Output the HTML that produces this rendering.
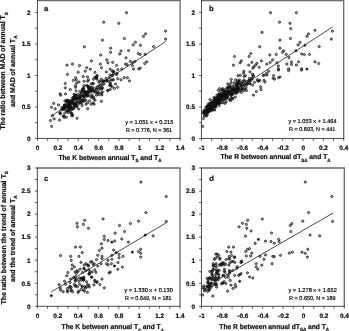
<!DOCTYPE html>
<html lang="en">
<head>
<meta charset="utf-8">
<title>Scatter plots: K and R between annual Ts and Ta</title>
<style>
html,body{margin:0;padding:0;background:#fff;}
body{width:349px;height:331px;overflow:hidden;font-family:"Liberation Sans", sans-serif;}
svg{display:block;will-change:transform;font-family:"Liberation Sans", sans-serif;fill:#111;text-rendering:geometricPrecision;}
text[font-weight="bold"]{stroke:#111;stroke-width:0.22px;}
text.eq{fill:#000;stroke:#000;stroke-width:0.17px;}
</style>
</head>
<body>
<svg width="349" height="331" viewBox="0 0 349 331">
<rect x="0" y="0" width="349" height="331" fill="#ffffff"/>
<g id="panel-a">
<path d="M37.45 0.55H180.1V138.45" fill="none" stroke="#6a6a6a" stroke-width="1.3"/>
<path d="M37.45 -0.05V138.45H180.7" fill="none" stroke="#2b2b2b" stroke-width="0.85"/>
<path d="M37.45 138.45v2.4M47.64 138.45v2.4M57.83 138.45v2.4M68.02 138.45v2.4M78.21 138.45v2.4M88.4 138.45v2.4M98.59 138.45v2.4M108.78 138.45v2.4M118.96 138.45v2.4M129.15 138.45v2.4M139.34 138.45v2.4M149.53 138.45v2.4M159.72 138.45v2.4M169.91 138.45v2.4M180.1 138.45v2.4M37.45 138.45h-2.4M37.45 122.7h-2.4M37.45 106.95h-2.4M37.45 91.2h-2.4M37.45 75.45h-2.4M37.45 59.7h-2.4M37.45 43.95h-2.4M37.45 28.2h-2.4M37.45 12.45h-2.4" stroke="#2b2b2b" stroke-width="0.75" fill="none"/>
<text x="37.55" y="149.9" text-anchor="middle" font-size="6.4" font-weight="bold">0</text>
<text x="57.93" y="149.9" text-anchor="middle" font-size="6.4" font-weight="bold">0.2</text>
<text x="78.31" y="149.9" text-anchor="middle" font-size="6.4" font-weight="bold">0.4</text>
<text x="98.69" y="149.9" text-anchor="middle" font-size="6.4" font-weight="bold">0.6</text>
<text x="119.06" y="149.9" text-anchor="middle" font-size="6.4" font-weight="bold">0.8</text>
<text x="139.44" y="149.9" text-anchor="middle" font-size="6.4" font-weight="bold">1</text>
<text x="159.82" y="149.9" text-anchor="middle" font-size="6.4" font-weight="bold">1.2</text>
<text x="180.2" y="149.9" text-anchor="middle" font-size="6.4" font-weight="bold">1.4</text>
<text x="30.55" y="140.75" text-anchor="end" font-size="6.4" font-weight="bold">0</text>
<text x="30.55" y="109.25" text-anchor="end" font-size="6.4" font-weight="bold">0.5</text>
<text x="30.55" y="77.75" text-anchor="end" font-size="6.4" font-weight="bold">1</text>
<text x="30.55" y="46.25" text-anchor="end" font-size="6.4" font-weight="bold">1.5</text>
<text x="30.55" y="14.75" text-anchor="end" font-size="6.4" font-weight="bold">2</text>
<line x1="50.7" y1="116.3" x2="165.83" y2="41.48" stroke="#1a1a1a" stroke-width="0.8"/>
<g fill="#000" fill-opacity="0.36" stroke="#151515" stroke-width="0.74"><circle cx="78.7" cy="109.03" r="1.12"/><circle cx="84.73" cy="93.85" r="1.12"/><circle cx="87.05" cy="94.05" r="1.12"/><circle cx="102.36" cy="81.45" r="1.12"/><circle cx="88.5" cy="87.1" r="1.12"/><circle cx="63.75" cy="108.17" r="1.12"/><circle cx="61.85" cy="107.53" r="1.12"/><circle cx="87.67" cy="102.83" r="1.12"/><circle cx="78.9" cy="81.94" r="1.12"/><circle cx="92.23" cy="90.3" r="1.12"/><circle cx="72.75" cy="115.46" r="1.12"/><circle cx="76.2" cy="90.86" r="1.12"/><circle cx="64.46" cy="108.49" r="1.12"/><circle cx="74.27" cy="98.22" r="1.12"/><circle cx="66.51" cy="100.8" r="1.12"/><circle cx="68.83" cy="102.85" r="1.12"/><circle cx="69.3" cy="106.1" r="1.12"/><circle cx="77.48" cy="101.22" r="1.12"/><circle cx="73.28" cy="108.33" r="1.12"/><circle cx="87.76" cy="81.23" r="1.12"/><circle cx="70.11" cy="107.57" r="1.12"/><circle cx="64.48" cy="105.5" r="1.12"/><circle cx="71.15" cy="112.88" r="1.12"/><circle cx="79.97" cy="91.52" r="1.12"/><circle cx="69.01" cy="102.73" r="1.12"/><circle cx="69.27" cy="110.33" r="1.12"/><circle cx="69.51" cy="111.3" r="1.12"/><circle cx="91.98" cy="96.65" r="1.12"/><circle cx="85.21" cy="94.93" r="1.12"/><circle cx="70.64" cy="107.02" r="1.12"/><circle cx="86.17" cy="93.5" r="1.12"/><circle cx="72.06" cy="102.5" r="1.12"/><circle cx="68.77" cy="102.94" r="1.12"/><circle cx="117.81" cy="69.61" r="1.12"/><circle cx="91" cy="90.03" r="1.12"/><circle cx="87.42" cy="92.79" r="1.12"/><circle cx="73.79" cy="108.1" r="1.12"/><circle cx="91.91" cy="95" r="1.12"/><circle cx="74.95" cy="95.31" r="1.12"/><circle cx="99.99" cy="88.66" r="1.12"/><circle cx="86.77" cy="94.99" r="1.12"/><circle cx="87.61" cy="95.57" r="1.12"/><circle cx="93.86" cy="98.74" r="1.12"/><circle cx="85.46" cy="96.72" r="1.12"/><circle cx="91.51" cy="87.47" r="1.12"/><circle cx="60.04" cy="113.48" r="1.12"/><circle cx="69.73" cy="109.2" r="1.12"/><circle cx="89.27" cy="96.04" r="1.12"/><circle cx="101.89" cy="94.85" r="1.12"/><circle cx="73.71" cy="98.71" r="1.12"/><circle cx="106.38" cy="71.94" r="1.12"/><circle cx="68.51" cy="106.39" r="1.12"/><circle cx="70.14" cy="107.67" r="1.12"/><circle cx="106.72" cy="80.48" r="1.12"/><circle cx="92.29" cy="89.79" r="1.12"/><circle cx="67.23" cy="106.99" r="1.12"/><circle cx="67.43" cy="111.01" r="1.12"/><circle cx="88.57" cy="87.89" r="1.12"/><circle cx="90.52" cy="90.89" r="1.12"/><circle cx="79.49" cy="97.8" r="1.12"/><circle cx="72.17" cy="114.13" r="1.12"/><circle cx="96.37" cy="89.25" r="1.12"/><circle cx="67" cy="103.49" r="1.12"/><circle cx="83.8" cy="100.38" r="1.12"/><circle cx="88.34" cy="86.77" r="1.12"/><circle cx="93" cy="102.91" r="1.12"/><circle cx="82.29" cy="89.58" r="1.12"/><circle cx="74.83" cy="105.49" r="1.12"/><circle cx="82.91" cy="88.59" r="1.12"/><circle cx="64" cy="107.28" r="1.12"/><circle cx="74.36" cy="98.89" r="1.12"/><circle cx="93.47" cy="79.27" r="1.12"/><circle cx="70.4" cy="104.96" r="1.12"/><circle cx="81.65" cy="102.83" r="1.12"/><circle cx="73.54" cy="97.66" r="1.12"/><circle cx="108.74" cy="81.4" r="1.12"/><circle cx="84" cy="101.2" r="1.12"/><circle cx="61.67" cy="110.02" r="1.12"/><circle cx="76.72" cy="106.23" r="1.12"/><circle cx="64.09" cy="108.04" r="1.12"/><circle cx="72.06" cy="109.57" r="1.12"/><circle cx="73.73" cy="99.21" r="1.12"/><circle cx="69.42" cy="108.07" r="1.12"/><circle cx="86.47" cy="85.75" r="1.12"/><circle cx="66.71" cy="105.22" r="1.12"/><circle cx="78.09" cy="94.56" r="1.12"/><circle cx="81.94" cy="100.79" r="1.12"/><circle cx="81.95" cy="101.11" r="1.12"/><circle cx="94.94" cy="91.96" r="1.12"/><circle cx="67.16" cy="100.36" r="1.12"/><circle cx="71.73" cy="115.86" r="1.12"/><circle cx="66.84" cy="100.3" r="1.12"/><circle cx="60.77" cy="95.2" r="1.12"/><circle cx="66.4" cy="117.2" r="1.12"/><circle cx="80.77" cy="95.74" r="1.12"/><circle cx="62.39" cy="108.75" r="1.12"/><circle cx="83.79" cy="93.23" r="1.12"/><circle cx="65.52" cy="93.91" r="1.12"/><circle cx="79.09" cy="103.39" r="1.12"/><circle cx="77.83" cy="98.42" r="1.12"/><circle cx="91.71" cy="97.52" r="1.12"/><circle cx="76.9" cy="98.16" r="1.12"/><circle cx="81.19" cy="92.74" r="1.12"/><circle cx="110.65" cy="85.84" r="1.12"/><circle cx="85.37" cy="92.05" r="1.12"/><circle cx="98.58" cy="89.42" r="1.12"/><circle cx="91.26" cy="104.07" r="1.12"/><circle cx="64.34" cy="105.04" r="1.12"/><circle cx="59.94" cy="112.78" r="1.12"/><circle cx="74.46" cy="103.6" r="1.12"/><circle cx="82.11" cy="105.51" r="1.12"/><circle cx="96.9" cy="92.75" r="1.12"/><circle cx="86.23" cy="95.1" r="1.12"/><circle cx="69.47" cy="104.16" r="1.12"/><circle cx="71.43" cy="113.45" r="1.12"/><circle cx="83.76" cy="96.11" r="1.12"/><circle cx="85.26" cy="92.3" r="1.12"/><circle cx="79.48" cy="99.37" r="1.12"/><circle cx="86" cy="104.34" r="1.12"/><circle cx="85.28" cy="92.07" r="1.12"/><circle cx="88.58" cy="93.21" r="1.12"/><circle cx="60.37" cy="113.53" r="1.12"/><circle cx="68.04" cy="100.93" r="1.12"/><circle cx="63.21" cy="116.02" r="1.12"/><circle cx="64.49" cy="117.48" r="1.12"/><circle cx="71.18" cy="100.74" r="1.12"/><circle cx="93.41" cy="83.6" r="1.12"/><circle cx="66.39" cy="111.32" r="1.12"/><circle cx="69.77" cy="101.8" r="1.12"/><circle cx="89.4" cy="88.52" r="1.12"/><circle cx="70.99" cy="109.17" r="1.12"/><circle cx="99.28" cy="86.47" r="1.12"/><circle cx="83.6" cy="89.29" r="1.12"/><circle cx="96.09" cy="77.19" r="1.12"/><circle cx="63.82" cy="109.51" r="1.12"/><circle cx="86.68" cy="92.01" r="1.12"/><circle cx="89.96" cy="90.7" r="1.12"/><circle cx="75.72" cy="104.41" r="1.12"/><circle cx="66.58" cy="101.78" r="1.12"/><circle cx="97.61" cy="87.01" r="1.12"/><circle cx="75.56" cy="85.58" r="1.12"/><circle cx="74.02" cy="94.24" r="1.12"/><circle cx="75.58" cy="105.13" r="1.12"/><circle cx="64.74" cy="113.28" r="1.12"/><circle cx="73.09" cy="101.94" r="1.12"/><circle cx="70.11" cy="106.43" r="1.12"/><circle cx="91.2" cy="83.89" r="1.12"/><circle cx="75.16" cy="96.59" r="1.12"/><circle cx="83.82" cy="85.72" r="1.12"/><circle cx="101.51" cy="93.27" r="1.12"/><circle cx="75.3" cy="95.66" r="1.12"/><circle cx="76.54" cy="106.79" r="1.12"/><circle cx="82.45" cy="99.34" r="1.12"/><circle cx="68.79" cy="105.62" r="1.12"/><circle cx="81.33" cy="96.28" r="1.12"/><circle cx="82.74" cy="90.25" r="1.12"/><circle cx="87.3" cy="85.52" r="1.12"/><circle cx="88.2" cy="92.17" r="1.12"/><circle cx="97.2" cy="92.56" r="1.12"/><circle cx="80.38" cy="102.91" r="1.12"/><circle cx="77.09" cy="118.29" r="1.12"/><circle cx="87.67" cy="108.73" r="1.12"/><circle cx="101.41" cy="79.21" r="1.12"/><circle cx="68.45" cy="100.72" r="1.12"/><circle cx="72.86" cy="103.33" r="1.12"/><circle cx="88.13" cy="90.7" r="1.12"/><circle cx="63.9" cy="107.67" r="1.12"/><circle cx="66.11" cy="107.56" r="1.12"/><circle cx="70.89" cy="103.54" r="1.12"/><circle cx="72.48" cy="97.79" r="1.12"/><circle cx="73.54" cy="108.53" r="1.12"/><circle cx="116.84" cy="73.53" r="1.12"/><circle cx="82.77" cy="95.97" r="1.12"/><circle cx="76.15" cy="99.27" r="1.12"/><circle cx="72.25" cy="103" r="1.12"/><circle cx="79.51" cy="97.03" r="1.12"/><circle cx="92.65" cy="87.57" r="1.12"/><circle cx="71.72" cy="100.6" r="1.12"/><circle cx="87.47" cy="95.6" r="1.12"/><circle cx="103.99" cy="83.83" r="1.12"/><circle cx="64.93" cy="100.97" r="1.12"/><circle cx="79.35" cy="95.76" r="1.12"/><circle cx="69.94" cy="100.78" r="1.12"/><circle cx="68.07" cy="106.3" r="1.12"/><circle cx="73.33" cy="99.33" r="1.12"/><circle cx="75.23" cy="104.54" r="1.12"/><circle cx="75.86" cy="97.99" r="1.12"/><circle cx="83.57" cy="88.12" r="1.12"/><circle cx="69.88" cy="104.94" r="1.12"/><circle cx="75.82" cy="102.78" r="1.12"/><circle cx="89.32" cy="88.17" r="1.12"/><circle cx="94.13" cy="104.18" r="1.12"/><circle cx="74.24" cy="104.15" r="1.12"/><circle cx="67.43" cy="107.41" r="1.12"/><circle cx="76.78" cy="102.52" r="1.12"/><circle cx="65.29" cy="104.99" r="1.12"/><circle cx="64.45" cy="105.59" r="1.12"/><circle cx="81.15" cy="93.42" r="1.12"/><circle cx="74.23" cy="105.22" r="1.12"/><circle cx="76.72" cy="97.04" r="1.12"/><circle cx="85.86" cy="100.35" r="1.12"/><circle cx="74.61" cy="104.86" r="1.12"/><circle cx="99.76" cy="81.16" r="1.12"/><circle cx="68.1" cy="112.53" r="1.12"/><circle cx="80.67" cy="100.07" r="1.12"/><circle cx="92.82" cy="83.64" r="1.12"/><circle cx="69.56" cy="106.56" r="1.12"/><circle cx="84.18" cy="91.66" r="1.12"/><circle cx="79.12" cy="102.17" r="1.12"/><circle cx="67.22" cy="110.63" r="1.12"/><circle cx="71.9" cy="107.11" r="1.12"/><circle cx="103.43" cy="80.93" r="1.12"/><circle cx="84.03" cy="98.52" r="1.12"/><circle cx="82.79" cy="90.93" r="1.12"/><circle cx="73.4" cy="80.46" r="1.12"/><circle cx="76.02" cy="94.98" r="1.12"/><circle cx="79.33" cy="98.17" r="1.12"/><circle cx="83.83" cy="95.99" r="1.12"/><circle cx="74.25" cy="96.73" r="1.12"/><circle cx="89.6" cy="100.78" r="1.12"/><circle cx="77.12" cy="105.57" r="1.12"/><circle cx="96.54" cy="78.27" r="1.12"/><circle cx="111.05" cy="80.01" r="1.12"/><circle cx="99.23" cy="94.73" r="1.12"/><circle cx="112.38" cy="75.45" r="1.12"/><circle cx="102.33" cy="91.88" r="1.12"/><circle cx="112.35" cy="79.8" r="1.12"/><circle cx="96.89" cy="79.26" r="1.12"/><circle cx="112.24" cy="75.41" r="1.12"/><circle cx="107.79" cy="90.32" r="1.12"/><circle cx="96.47" cy="95.12" r="1.12"/><circle cx="104.12" cy="81.16" r="1.12"/><circle cx="100.24" cy="85.24" r="1.12"/><circle cx="101.71" cy="87.31" r="1.12"/><circle cx="106.81" cy="81.11" r="1.12"/><circle cx="102.34" cy="84.89" r="1.12"/><circle cx="98.87" cy="82.13" r="1.12"/><circle cx="94.65" cy="77.65" r="1.12"/><circle cx="114" cy="71.9" r="1.12"/><circle cx="106.03" cy="78.45" r="1.12"/><circle cx="109.73" cy="85.36" r="1.12"/><circle cx="94.27" cy="90.67" r="1.12"/><circle cx="112.33" cy="86.91" r="1.12"/><circle cx="91.01" cy="91.77" r="1.12"/><circle cx="102.64" cy="88.19" r="1.12"/><circle cx="113.59" cy="73.24" r="1.12"/><circle cx="96.32" cy="89.15" r="1.12"/><circle cx="97" cy="76.37" r="1.12"/><circle cx="110" cy="75.15" r="1.12"/><circle cx="98.92" cy="92.67" r="1.12"/><circle cx="89.61" cy="86.97" r="1.12"/><circle cx="89.22" cy="89.44" r="1.12"/><circle cx="101.6" cy="88.96" r="1.12"/><circle cx="113.14" cy="71.19" r="1.12"/><circle cx="93.87" cy="91.78" r="1.12"/><circle cx="96.22" cy="77.36" r="1.12"/><circle cx="93.58" cy="97.22" r="1.12"/><circle cx="110.59" cy="84.23" r="1.12"/><circle cx="103.7" cy="22.2" r="1.12"/><circle cx="102.4" cy="40.2" r="1.12"/><circle cx="84.4" cy="46.8" r="1.12"/><circle cx="100.7" cy="55" r="1.12"/><circle cx="91.4" cy="60.9" r="1.12"/><circle cx="67" cy="65.2" r="1.12"/><circle cx="72.5" cy="64.1" r="1.12"/><circle cx="79.5" cy="65.6" r="1.12"/><circle cx="86.7" cy="67.7" r="1.12"/><circle cx="100.3" cy="64.1" r="1.12"/><circle cx="106.8" cy="59.9" r="1.12"/><circle cx="101.5" cy="67.7" r="1.12"/><circle cx="90.3" cy="69.2" r="1.12"/><circle cx="107.9" cy="62.8" r="1.12"/><circle cx="126.5" cy="12.7" r="1.12"/><circle cx="118.8" cy="23.3" r="1.12"/><circle cx="165.6" cy="31.1" r="1.12"/><circle cx="165.6" cy="39.1" r="1.12"/><circle cx="145.5" cy="33.9" r="1.12"/><circle cx="143.4" cy="36.4" r="1.12"/><circle cx="124.4" cy="38.5" r="1.12"/><circle cx="135.4" cy="42.3" r="1.12"/><circle cx="133.2" cy="44.9" r="1.12"/><circle cx="140.4" cy="45.3" r="1.12"/><circle cx="153.6" cy="46.6" r="1.12"/><circle cx="110.6" cy="48.2" r="1.12"/><circle cx="110.6" cy="52.3" r="1.12"/><circle cx="121" cy="51" r="1.12"/><circle cx="119.7" cy="54" r="1.12"/><circle cx="128.6" cy="50.6" r="1.12"/><circle cx="138.3" cy="53.5" r="1.12"/><circle cx="140.2" cy="54.4" r="1.12"/><circle cx="145.1" cy="54.4" r="1.12"/><circle cx="126" cy="57.8" r="1.12"/><circle cx="112.7" cy="62.4" r="1.12"/><circle cx="116.5" cy="65.4" r="1.12"/><circle cx="125.6" cy="64.1" r="1.12"/><circle cx="127.1" cy="64.7" r="1.12"/><circle cx="130.3" cy="61.4" r="1.12"/><circle cx="132.8" cy="62.8" r="1.12"/><circle cx="134.9" cy="61.4" r="1.12"/><circle cx="132.4" cy="65.6" r="1.12"/><circle cx="144.7" cy="63.5" r="1.12"/><circle cx="146.8" cy="61.8" r="1.12"/><circle cx="140.2" cy="68.1" r="1.12"/><circle cx="138.7" cy="69" r="1.12"/><circle cx="133.4" cy="69" r="1.12"/><circle cx="121.8" cy="69" r="1.12"/><circle cx="110.2" cy="69.2" r="1.12"/><circle cx="116.7" cy="74.4" r="1.12"/><circle cx="112.4" cy="71.2" r="1.12"/><circle cx="109" cy="77.7" r="1.12"/><circle cx="113.4" cy="79.8" r="1.12"/><circle cx="117.7" cy="78.7" r="1.12"/><circle cx="121" cy="79.8" r="1.12"/><circle cx="124.2" cy="77.7" r="1.12"/><circle cx="127.4" cy="77.7" r="1.12"/><circle cx="129.5" cy="80.9" r="1.12"/><circle cx="115.6" cy="84.1" r="1.12"/><circle cx="110.2" cy="83" r="1.12"/><circle cx="117.7" cy="87.3" r="1.12"/><circle cx="114.5" cy="88.4" r="1.12"/><circle cx="110.2" cy="89.5" r="1.12"/><circle cx="108" cy="90.5" r="1.12"/><circle cx="51.6" cy="126.4" r="1.12"/><circle cx="50.5" cy="120.6" r="1.12"/><circle cx="54.2" cy="118.9" r="1.12"/><circle cx="52.5" cy="115.7" r="1.12"/><circle cx="59.5" cy="120" r="1.12"/><circle cx="63.8" cy="116.3" r="1.12"/><circle cx="51.4" cy="107.3" r="1.12"/><circle cx="53.7" cy="103.4" r="1.12"/><circle cx="55.2" cy="108.8" r="1.12"/><circle cx="60" cy="93.8" r="1.12"/><circle cx="58.5" cy="104.9" r="1.12"/><circle cx="65.3" cy="83.5" r="1.12"/><circle cx="65.3" cy="87.8" r="1.12"/><circle cx="67.5" cy="74.4" r="1.12"/><circle cx="78.2" cy="72.3" r="1.12"/><circle cx="75.6" cy="77.7" r="1.12"/><circle cx="76.3" cy="79.8" r="1.12"/><circle cx="83.2" cy="76.6" r="1.12"/><circle cx="85.3" cy="71.2" r="1.12"/><circle cx="95" cy="72.3" r="1.12"/><circle cx="97.1" cy="75.5" r="1.12"/><circle cx="87.4" cy="77" r="1.12"/><circle cx="88.5" cy="79.8" r="1.12"/><circle cx="84.2" cy="81.3" r="1.12"/><circle cx="76.7" cy="83" r="1.12"/><circle cx="75.6" cy="87.3" r="1.12"/><circle cx="70.3" cy="89.5" r="1.12"/><circle cx="101.4" cy="101.3" r="1.12"/><circle cx="95" cy="100.2" r="1.12"/></g>
<text class="eq" x="125.2" y="123.7" font-size="5.6" textLength="48.1" lengthAdjust="spacingAndGlyphs">y = 1.051 x + 0.215</text>
<text class="eq" x="125.9" y="131.8" font-size="5.6" textLength="46.2" lengthAdjust="spacingAndGlyphs">R = 0.776, N = 361</text>
<text x="43.9" y="10.9" font-size="7.6" font-weight="bold">a</text>
</g>
<g id="panel-b">
<path d="M201.45 0.55H343.7V138.45" fill="none" stroke="#6a6a6a" stroke-width="1.3"/>
<path d="M201.45 -0.05V138.45H344.3" fill="none" stroke="#2b2b2b" stroke-width="0.85"/>
<path d="M201.45 138.45v2.4M211.61 138.45v2.4M221.77 138.45v2.4M231.93 138.45v2.4M242.09 138.45v2.4M252.25 138.45v2.4M262.41 138.45v2.4M272.57 138.45v2.4M282.74 138.45v2.4M292.9 138.45v2.4M303.06 138.45v2.4M313.22 138.45v2.4M323.38 138.45v2.4M333.54 138.45v2.4M343.7 138.45v2.4M201.45 138.45h-2.4M201.45 122.7h-2.4M201.45 106.95h-2.4M201.45 91.2h-2.4M201.45 75.45h-2.4M201.45 59.7h-2.4M201.45 43.95h-2.4M201.45 28.2h-2.4M201.45 12.45h-2.4" stroke="#2b2b2b" stroke-width="0.75" fill="none"/>
<text x="201.95" y="149.9" text-anchor="middle" font-size="6.4" font-weight="bold">-1</text>
<text x="222.27" y="149.9" text-anchor="middle" font-size="6.4" font-weight="bold">-0.8</text>
<text x="242.59" y="149.9" text-anchor="middle" font-size="6.4" font-weight="bold">-0.6</text>
<text x="262.91" y="149.9" text-anchor="middle" font-size="6.4" font-weight="bold">-0.4</text>
<text x="283.24" y="149.9" text-anchor="middle" font-size="6.4" font-weight="bold">-0.2</text>
<text x="303.16" y="149.9" text-anchor="middle" font-size="6.4" font-weight="bold">0</text>
<text x="323.48" y="149.9" text-anchor="middle" font-size="6.4" font-weight="bold">0.2</text>
<text x="343.8" y="149.9" text-anchor="middle" font-size="6.4" font-weight="bold">0.4</text>
<text x="195" y="140.75" text-anchor="end" font-size="6.4" font-weight="bold">0</text>
<text x="195" y="109.25" text-anchor="end" font-size="6.4" font-weight="bold">0.5</text>
<text x="195" y="77.75" text-anchor="end" font-size="6.4" font-weight="bold">1</text>
<text x="195" y="46.25" text-anchor="end" font-size="6.4" font-weight="bold">1.5</text>
<text x="195" y="14.75" text-anchor="end" font-size="6.4" font-weight="bold">2</text>
<line x1="201.96" y1="112.23" x2="332.52" y2="26.98" stroke="#1a1a1a" stroke-width="0.8"/>
<g fill="#000" fill-opacity="0.36" stroke="#151515" stroke-width="0.74"><circle cx="237.45" cy="80.76" r="1.12"/><circle cx="226.76" cy="95.75" r="1.12"/><circle cx="226.96" cy="94.04" r="1.12"/><circle cx="214.91" cy="102.86" r="1.12"/><circle cx="236.99" cy="85.43" r="1.12"/><circle cx="214.86" cy="100.54" r="1.12"/><circle cx="218.1" cy="101.52" r="1.12"/><circle cx="218.52" cy="102.16" r="1.12"/><circle cx="211.76" cy="106.17" r="1.12"/><circle cx="242.59" cy="84.78" r="1.12"/><circle cx="264.02" cy="80.33" r="1.12"/><circle cx="207.28" cy="109.84" r="1.12"/><circle cx="251.41" cy="78.58" r="1.12"/><circle cx="206.64" cy="106.85" r="1.12"/><circle cx="214.03" cy="99.3" r="1.12"/><circle cx="221.1" cy="99.18" r="1.12"/><circle cx="209.99" cy="107.12" r="1.12"/><circle cx="220.44" cy="97.3" r="1.12"/><circle cx="220.4" cy="99.76" r="1.12"/><circle cx="213.19" cy="102.41" r="1.12"/><circle cx="243.78" cy="71.34" r="1.12"/><circle cx="230.85" cy="87.49" r="1.12"/><circle cx="235.12" cy="89.58" r="1.12"/><circle cx="228.37" cy="91.92" r="1.12"/><circle cx="248.88" cy="80.63" r="1.12"/><circle cx="225.07" cy="96.54" r="1.12"/><circle cx="218.35" cy="90.42" r="1.12"/><circle cx="226.09" cy="101.95" r="1.12"/><circle cx="227.52" cy="90.96" r="1.12"/><circle cx="237.79" cy="83.74" r="1.12"/><circle cx="209.05" cy="106.8" r="1.12"/><circle cx="257.34" cy="79.66" r="1.12"/><circle cx="241.18" cy="86.27" r="1.12"/><circle cx="227.91" cy="95.68" r="1.12"/><circle cx="218.3" cy="100.84" r="1.12"/><circle cx="231.74" cy="90.6" r="1.12"/><circle cx="226.61" cy="92.78" r="1.12"/><circle cx="239.3" cy="89.99" r="1.12"/><circle cx="220.87" cy="91.64" r="1.12"/><circle cx="230.58" cy="100.66" r="1.12"/><circle cx="244.02" cy="80.12" r="1.12"/><circle cx="234.13" cy="82.79" r="1.12"/><circle cx="237.52" cy="87.3" r="1.12"/><circle cx="212.41" cy="106.08" r="1.12"/><circle cx="215.01" cy="99.93" r="1.12"/><circle cx="215.33" cy="102.04" r="1.12"/><circle cx="219.36" cy="96.03" r="1.12"/><circle cx="222.32" cy="96.26" r="1.12"/><circle cx="215.83" cy="104.51" r="1.12"/><circle cx="223.8" cy="94.35" r="1.12"/><circle cx="222.01" cy="93.87" r="1.12"/><circle cx="220.37" cy="94.21" r="1.12"/><circle cx="264.03" cy="75.04" r="1.12"/><circle cx="211.6" cy="108.23" r="1.12"/><circle cx="236.27" cy="83.69" r="1.12"/><circle cx="233.04" cy="89.53" r="1.12"/><circle cx="238.01" cy="89.6" r="1.12"/><circle cx="218.2" cy="99.56" r="1.12"/><circle cx="235.26" cy="96.99" r="1.12"/><circle cx="219.44" cy="99.39" r="1.12"/><circle cx="217.97" cy="103.15" r="1.12"/><circle cx="218.27" cy="102.81" r="1.12"/><circle cx="203.99" cy="110.57" r="1.12"/><circle cx="216.18" cy="104.3" r="1.12"/><circle cx="236.22" cy="93.16" r="1.12"/><circle cx="210.48" cy="109.89" r="1.12"/><circle cx="230.85" cy="95.05" r="1.12"/><circle cx="221.39" cy="98.55" r="1.12"/><circle cx="205.95" cy="107.29" r="1.12"/><circle cx="231.65" cy="94.41" r="1.12"/><circle cx="224.71" cy="97.9" r="1.12"/><circle cx="222.89" cy="99.52" r="1.12"/><circle cx="218.42" cy="97.81" r="1.12"/><circle cx="224.98" cy="99.62" r="1.12"/><circle cx="227.49" cy="94.15" r="1.12"/><circle cx="234.5" cy="86.69" r="1.12"/><circle cx="215.49" cy="103.13" r="1.12"/><circle cx="247.7" cy="83.8" r="1.12"/><circle cx="239.45" cy="83.79" r="1.12"/><circle cx="236.43" cy="85.12" r="1.12"/><circle cx="237.4" cy="88.34" r="1.12"/><circle cx="207.31" cy="109.59" r="1.12"/><circle cx="224.92" cy="103.3" r="1.12"/><circle cx="222.02" cy="96.82" r="1.12"/><circle cx="212.01" cy="102.73" r="1.12"/><circle cx="237.28" cy="90.06" r="1.12"/><circle cx="216.55" cy="100.39" r="1.12"/><circle cx="221.88" cy="95.63" r="1.12"/><circle cx="246.55" cy="83.47" r="1.12"/><circle cx="210.8" cy="107.91" r="1.12"/><circle cx="219.63" cy="99.47" r="1.12"/><circle cx="212" cy="106.71" r="1.12"/><circle cx="215.19" cy="97.7" r="1.12"/><circle cx="211.49" cy="110.69" r="1.12"/><circle cx="215.71" cy="104.33" r="1.12"/><circle cx="211.34" cy="104.13" r="1.12"/><circle cx="260.95" cy="89.54" r="1.12"/><circle cx="233.57" cy="89.81" r="1.12"/><circle cx="227.02" cy="97.11" r="1.12"/><circle cx="209.58" cy="106.67" r="1.12"/><circle cx="222.05" cy="94.41" r="1.12"/><circle cx="217.57" cy="99.08" r="1.12"/><circle cx="215.72" cy="100.01" r="1.12"/><circle cx="242.16" cy="88.87" r="1.12"/><circle cx="210.47" cy="109.18" r="1.12"/><circle cx="212.56" cy="109.39" r="1.12"/><circle cx="215.51" cy="99.94" r="1.12"/><circle cx="219.11" cy="100.24" r="1.12"/><circle cx="248.97" cy="80.69" r="1.12"/><circle cx="224.87" cy="89.86" r="1.12"/><circle cx="207.5" cy="106.94" r="1.12"/><circle cx="220.87" cy="97.13" r="1.12"/><circle cx="216.08" cy="100.11" r="1.12"/><circle cx="223.67" cy="95.04" r="1.12"/><circle cx="206.03" cy="114.27" r="1.12"/><circle cx="230.71" cy="91.16" r="1.12"/><circle cx="209.99" cy="99.65" r="1.12"/><circle cx="231.25" cy="94.99" r="1.12"/><circle cx="222.14" cy="94.78" r="1.12"/><circle cx="225.85" cy="95.92" r="1.12"/><circle cx="210.36" cy="106.54" r="1.12"/><circle cx="219.16" cy="105.57" r="1.12"/><circle cx="216.14" cy="104.25" r="1.12"/><circle cx="207.54" cy="110.94" r="1.12"/><circle cx="214.17" cy="101.4" r="1.12"/><circle cx="219.21" cy="97.72" r="1.12"/><circle cx="252.91" cy="75.81" r="1.12"/><circle cx="245.12" cy="89.34" r="1.12"/><circle cx="222.42" cy="95.74" r="1.12"/><circle cx="242.37" cy="81.65" r="1.12"/><circle cx="253.55" cy="75.87" r="1.12"/><circle cx="221.21" cy="96.94" r="1.12"/><circle cx="236.54" cy="90.01" r="1.12"/><circle cx="203.91" cy="112.91" r="1.12"/><circle cx="230.64" cy="99.48" r="1.12"/><circle cx="219.35" cy="97.03" r="1.12"/><circle cx="225.05" cy="90.95" r="1.12"/><circle cx="209.77" cy="109.1" r="1.12"/><circle cx="206.99" cy="113.22" r="1.12"/><circle cx="214.86" cy="104.9" r="1.12"/><circle cx="232.8" cy="89.48" r="1.12"/><circle cx="216.29" cy="99.27" r="1.12"/><circle cx="228.17" cy="87.22" r="1.12"/><circle cx="209.53" cy="105.3" r="1.12"/><circle cx="219.67" cy="88.65" r="1.12"/><circle cx="237.46" cy="82.17" r="1.12"/><circle cx="234.56" cy="88.37" r="1.12"/><circle cx="219.36" cy="102.24" r="1.12"/><circle cx="245.37" cy="75.65" r="1.12"/><circle cx="263.34" cy="75.44" r="1.12"/><circle cx="259.76" cy="80.27" r="1.12"/><circle cx="242.74" cy="82.8" r="1.12"/><circle cx="221.15" cy="97.39" r="1.12"/><circle cx="246.69" cy="84.82" r="1.12"/><circle cx="208.14" cy="105.3" r="1.12"/><circle cx="243.62" cy="86.39" r="1.12"/><circle cx="229.78" cy="93.21" r="1.12"/><circle cx="222.81" cy="90.69" r="1.12"/><circle cx="236.67" cy="92.9" r="1.12"/><circle cx="243.74" cy="90.57" r="1.12"/><circle cx="214.74" cy="99.01" r="1.12"/><circle cx="237.39" cy="91.95" r="1.12"/><circle cx="215.26" cy="106.76" r="1.12"/><circle cx="266.88" cy="75.05" r="1.12"/><circle cx="230.54" cy="89.06" r="1.12"/><circle cx="217.72" cy="100.33" r="1.12"/><circle cx="210.36" cy="106.63" r="1.12"/><circle cx="213.47" cy="107.19" r="1.12"/><circle cx="227.85" cy="83.88" r="1.12"/><circle cx="219.41" cy="97.41" r="1.12"/><circle cx="244.62" cy="84.96" r="1.12"/><circle cx="209.64" cy="106.64" r="1.12"/><circle cx="236.85" cy="86.16" r="1.12"/><circle cx="249.5" cy="83.32" r="1.12"/><circle cx="214.46" cy="110.18" r="1.12"/><circle cx="242.85" cy="89" r="1.12"/><circle cx="222.07" cy="94.9" r="1.12"/><circle cx="222.03" cy="89.48" r="1.12"/><circle cx="208.15" cy="110.86" r="1.12"/><circle cx="218.4" cy="103.48" r="1.12"/><circle cx="218.16" cy="96.45" r="1.12"/><circle cx="257.89" cy="80.94" r="1.12"/><circle cx="229.94" cy="85.2" r="1.12"/><circle cx="215.83" cy="102.67" r="1.12"/><circle cx="227.44" cy="91.54" r="1.12"/><circle cx="222.61" cy="100.67" r="1.12"/><circle cx="202.95" cy="112.67" r="1.12"/><circle cx="204.32" cy="116.11" r="1.12"/><circle cx="207.04" cy="106.89" r="1.12"/><circle cx="225.5" cy="96.2" r="1.12"/><circle cx="243.55" cy="73.09" r="1.12"/><circle cx="222.93" cy="102.71" r="1.12"/><circle cx="239.4" cy="91.27" r="1.12"/><circle cx="204.99" cy="109.81" r="1.12"/><circle cx="256.42" cy="91.57" r="1.12"/><circle cx="224.38" cy="96.63" r="1.12"/><circle cx="210.73" cy="102.94" r="1.12"/><circle cx="208.24" cy="106.96" r="1.12"/><circle cx="204.52" cy="111.84" r="1.12"/><circle cx="235.5" cy="79.78" r="1.12"/><circle cx="205.56" cy="115.11" r="1.12"/><circle cx="217.1" cy="101.14" r="1.12"/><circle cx="229.88" cy="93.62" r="1.12"/><circle cx="209.09" cy="110.26" r="1.12"/><circle cx="227.45" cy="88.19" r="1.12"/><circle cx="215.97" cy="107.1" r="1.12"/><circle cx="211.21" cy="107.75" r="1.12"/><circle cx="203.39" cy="118.59" r="1.12"/><circle cx="228.79" cy="92.35" r="1.12"/><circle cx="220.67" cy="103" r="1.12"/><circle cx="230.63" cy="87.51" r="1.12"/><circle cx="218.66" cy="94.21" r="1.12"/><circle cx="249.49" cy="78.36" r="1.12"/><circle cx="232.06" cy="92.8" r="1.12"/><circle cx="233.05" cy="85.83" r="1.12"/><circle cx="207.44" cy="105.95" r="1.12"/><circle cx="216.95" cy="95.21" r="1.12"/><circle cx="250.18" cy="83.79" r="1.12"/><circle cx="237.95" cy="89.85" r="1.12"/><circle cx="249.98" cy="71.86" r="1.12"/><circle cx="228.42" cy="90.62" r="1.12"/><circle cx="234.73" cy="92.82" r="1.12"/><circle cx="215.12" cy="105.74" r="1.12"/><circle cx="207.69" cy="107.24" r="1.12"/><circle cx="239.74" cy="84.06" r="1.12"/><circle cx="207.99" cy="106.38" r="1.12"/><circle cx="216.74" cy="98.18" r="1.12"/><circle cx="252.68" cy="85.03" r="1.12"/><circle cx="214.9" cy="102.58" r="1.12"/><circle cx="214.41" cy="100.97" r="1.12"/><circle cx="237.34" cy="85.12" r="1.12"/><circle cx="211.45" cy="109.72" r="1.12"/><circle cx="217.15" cy="100.07" r="1.12"/><circle cx="241.02" cy="83.49" r="1.12"/><circle cx="209.98" cy="109.55" r="1.12"/><circle cx="238" cy="75.7" r="1.12"/><circle cx="220.24" cy="95.07" r="1.12"/><circle cx="238.6" cy="87.29" r="1.12"/><circle cx="223.72" cy="90.96" r="1.12"/><circle cx="223.83" cy="93.74" r="1.12"/><circle cx="218.64" cy="96.85" r="1.12"/><circle cx="229.14" cy="99.66" r="1.12"/><circle cx="232.98" cy="98.69" r="1.12"/><circle cx="209.73" cy="108.3" r="1.12"/><circle cx="231.11" cy="82.61" r="1.12"/><circle cx="217.34" cy="99.53" r="1.12"/><circle cx="224.72" cy="92.21" r="1.12"/><circle cx="238.39" cy="88.71" r="1.12"/><circle cx="226.78" cy="87.99" r="1.12"/><circle cx="233.63" cy="89.31" r="1.12"/><circle cx="227.04" cy="96.23" r="1.12"/><circle cx="211.23" cy="106.63" r="1.12"/><circle cx="212.76" cy="106.44" r="1.12"/><circle cx="237.17" cy="87.92" r="1.12"/><circle cx="234.09" cy="90.72" r="1.12"/><circle cx="207" cy="110.41" r="1.12"/><circle cx="234.95" cy="92.11" r="1.12"/><circle cx="217.78" cy="96.64" r="1.12"/><circle cx="224.04" cy="93.05" r="1.12"/><circle cx="240.32" cy="75.35" r="1.12"/><circle cx="219.14" cy="99.67" r="1.12"/><circle cx="224.35" cy="98.5" r="1.12"/><circle cx="229.07" cy="86.92" r="1.12"/><circle cx="228.43" cy="91.52" r="1.12"/><circle cx="206.41" cy="116.06" r="1.12"/><circle cx="210.54" cy="104.86" r="1.12"/><circle cx="266.59" cy="73.38" r="1.12"/><circle cx="239.36" cy="79.96" r="1.12"/><circle cx="234.17" cy="88.53" r="1.12"/><circle cx="225.09" cy="98.21" r="1.12"/><circle cx="252.59" cy="74.18" r="1.12"/><circle cx="207.54" cy="109.49" r="1.12"/><circle cx="204.12" cy="113.57" r="1.12"/><circle cx="226.34" cy="98.26" r="1.12"/><circle cx="205.07" cy="112.49" r="1.12"/><circle cx="237.5" cy="88.85" r="1.12"/><circle cx="214.24" cy="109.45" r="1.12"/><circle cx="209.6" cy="107.92" r="1.12"/><circle cx="224.76" cy="94.88" r="1.12"/><circle cx="222.73" cy="88.71" r="1.12"/><circle cx="214.92" cy="106.06" r="1.12"/><circle cx="223.73" cy="95.38" r="1.12"/><circle cx="253.38" cy="95.09" r="1.12"/><circle cx="258.65" cy="81.13" r="1.12"/><circle cx="246.59" cy="90.52" r="1.12"/><circle cx="219.82" cy="98.89" r="1.12"/><circle cx="230.85" cy="93.34" r="1.12"/><circle cx="209.33" cy="106.86" r="1.12"/><circle cx="224.59" cy="93.04" r="1.12"/><circle cx="231.94" cy="94.24" r="1.12"/><circle cx="208.56" cy="103.65" r="1.12"/><circle cx="207.36" cy="114.82" r="1.12"/><circle cx="225.97" cy="93.34" r="1.12"/><circle cx="231.08" cy="97.35" r="1.12"/><circle cx="215.47" cy="100.74" r="1.12"/><circle cx="208.07" cy="111.26" r="1.12"/><circle cx="209.31" cy="111.35" r="1.12"/><circle cx="219.51" cy="101.18" r="1.12"/><circle cx="210.73" cy="103.05" r="1.12"/><circle cx="239" cy="81.44" r="1.12"/><circle cx="226.98" cy="92.4" r="1.12"/><circle cx="217.61" cy="102.06" r="1.12"/><circle cx="218.14" cy="102.64" r="1.12"/><circle cx="209.39" cy="104.37" r="1.12"/><circle cx="214.58" cy="102.13" r="1.12"/><circle cx="209.51" cy="109.21" r="1.12"/><circle cx="215.41" cy="105.89" r="1.12"/><circle cx="264.84" cy="82" r="1.12"/><circle cx="233.32" cy="89.7" r="1.12"/><circle cx="236.8" cy="84.48" r="1.12"/><circle cx="221.59" cy="95.06" r="1.12"/><circle cx="213.1" cy="103.49" r="1.12"/><circle cx="252.25" cy="78.57" r="1.12"/><circle cx="208.64" cy="109.28" r="1.12"/><circle cx="226.26" cy="94.81" r="1.12"/><circle cx="244.26" cy="76.41" r="1.12"/><circle cx="227.27" cy="97.52" r="1.12"/><circle cx="210.15" cy="106.08" r="1.12"/><circle cx="274.59" cy="79.13" r="1.12"/><circle cx="251.08" cy="80.41" r="1.12"/><circle cx="223.88" cy="93.75" r="1.12"/><circle cx="216.6" cy="104.4" r="1.12"/><circle cx="217.97" cy="102.96" r="1.12"/><circle cx="240.69" cy="90" r="1.12"/><circle cx="218.87" cy="101.78" r="1.12"/><circle cx="212.52" cy="107.61" r="1.12"/><circle cx="230.37" cy="91.16" r="1.12"/><circle cx="215.1" cy="101.71" r="1.12"/><circle cx="216.26" cy="100.75" r="1.12"/><circle cx="212.82" cy="103" r="1.12"/><circle cx="228.22" cy="87.37" r="1.12"/><circle cx="232.44" cy="98.43" r="1.12"/><circle cx="217.79" cy="102.37" r="1.12"/><circle cx="208.6" cy="108.59" r="1.12"/><circle cx="268.64" cy="71.23" r="1.12"/><circle cx="219.35" cy="93.95" r="1.12"/><circle cx="218.67" cy="99.87" r="1.12"/><circle cx="241.22" cy="85.62" r="1.12"/><circle cx="234.97" cy="91.18" r="1.12"/><circle cx="228" cy="93.31" r="1.12"/><circle cx="213.6" cy="105.49" r="1.12"/><circle cx="209.35" cy="111.42" r="1.12"/><circle cx="232.62" cy="89.05" r="1.12"/><circle cx="219.13" cy="103.43" r="1.12"/><circle cx="211.22" cy="108.85" r="1.12"/><circle cx="213.95" cy="97.7" r="1.12"/><circle cx="218.34" cy="99.9" r="1.12"/><circle cx="212.48" cy="101.04" r="1.12"/><circle cx="244.42" cy="81.6" r="1.12"/><circle cx="215.44" cy="98.72" r="1.12"/><circle cx="227.59" cy="92.05" r="1.12"/><circle cx="241.48" cy="92.43" r="1.12"/><circle cx="206.49" cy="112.21" r="1.12"/><circle cx="219.98" cy="102.35" r="1.12"/><circle cx="241.78" cy="89.02" r="1.12"/><circle cx="246.08" cy="87.58" r="1.12"/><circle cx="207.51" cy="112.43" r="1.12"/><circle cx="228.29" cy="92.17" r="1.12"/><circle cx="233.09" cy="93.91" r="1.12"/><circle cx="246.64" cy="81.28" r="1.12"/><circle cx="231.26" cy="79.38" r="1.12"/><circle cx="211.81" cy="108.19" r="1.12"/><circle cx="260.62" cy="86.79" r="1.12"/><circle cx="224.64" cy="95.02" r="1.12"/><circle cx="254.53" cy="82.34" r="1.12"/><circle cx="238.71" cy="81.66" r="1.12"/><circle cx="228.37" cy="93.3" r="1.12"/><circle cx="206.79" cy="111.6" r="1.12"/><circle cx="270.5" cy="12.7" r="1.12"/><circle cx="262" cy="32.4" r="1.12"/><circle cx="259.7" cy="46.8" r="1.12"/><circle cx="234.5" cy="56.5" r="1.12"/><circle cx="250.8" cy="53.5" r="1.12"/><circle cx="249.1" cy="56.5" r="1.12"/><circle cx="269.8" cy="55" r="1.12"/><circle cx="241.3" cy="60.9" r="1.12"/><circle cx="240.2" cy="62.8" r="1.12"/><circle cx="233.4" cy="65.2" r="1.12"/><circle cx="251.8" cy="62.4" r="1.12"/><circle cx="261.4" cy="60.9" r="1.12"/><circle cx="248.7" cy="65.2" r="1.12"/><circle cx="254" cy="66.7" r="1.12"/><circle cx="252.9" cy="68.1" r="1.12"/><circle cx="259.2" cy="67.3" r="1.12"/><circle cx="266.7" cy="64.1" r="1.12"/><circle cx="270.2" cy="62.4" r="1.12"/><circle cx="272.6" cy="59.9" r="1.12"/><circle cx="296.4" cy="12.7" r="1.12"/><circle cx="279.5" cy="22.2" r="1.12"/><circle cx="290" cy="23.3" r="1.12"/><circle cx="290.7" cy="28.6" r="1.12"/><circle cx="315" cy="30.3" r="1.12"/><circle cx="332.4" cy="31.1" r="1.12"/><circle cx="331.3" cy="39.1" r="1.12"/><circle cx="308.5" cy="33.9" r="1.12"/><circle cx="307" cy="36.4" r="1.12"/><circle cx="290.5" cy="38.5" r="1.12"/><circle cx="279.9" cy="40.2" r="1.12"/><circle cx="300" cy="42.3" r="1.12"/><circle cx="298.1" cy="44.9" r="1.12"/><circle cx="319.2" cy="46.6" r="1.12"/><circle cx="279.9" cy="48.2" r="1.12"/><circle cx="283.7" cy="50.8" r="1.12"/><circle cx="282.6" cy="52.3" r="1.12"/><circle cx="276.3" cy="54.4" r="1.12"/><circle cx="286.2" cy="54.4" r="1.12"/><circle cx="301.7" cy="54" r="1.12"/><circle cx="304.4" cy="54.6" r="1.12"/><circle cx="309.5" cy="54.4" r="1.12"/><circle cx="289" cy="57.6" r="1.12"/><circle cx="276.9" cy="62.8" r="1.12"/><circle cx="286.9" cy="64.1" r="1.12"/><circle cx="291.5" cy="62" r="1.12"/><circle cx="291.5" cy="64.5" r="1.12"/><circle cx="298.5" cy="61.8" r="1.12"/><circle cx="296.4" cy="65" r="1.12"/><circle cx="315" cy="61.8" r="1.12"/><circle cx="318.6" cy="63.5" r="1.12"/><circle cx="278.4" cy="66" r="1.12"/><circle cx="278.4" cy="68.8" r="1.12"/><circle cx="288.6" cy="68.8" r="1.12"/><circle cx="301.7" cy="68.8" r="1.12"/><circle cx="278.5" cy="70.1" r="1.12"/><circle cx="288.6" cy="70.6" r="1.12"/><circle cx="301.5" cy="70.1" r="1.12"/><circle cx="273.6" cy="75.5" r="1.12"/><circle cx="273.1" cy="78.3" r="1.12"/><circle cx="278.5" cy="77.7" r="1.12"/><circle cx="280" cy="77" r="1.12"/><circle cx="202.6" cy="126.4" r="1.12"/><circle cx="256.9" cy="63.3" r="1.12"/><circle cx="255.6" cy="65.1" r="1.12"/></g>
<g fill="#111" stroke="#111" stroke-width="0.5"><circle cx="304.9" cy="45.3" r="1.15"/><circle cx="296" cy="50.8" r="1.15"/><circle cx="306.9" cy="69.1" r="1.15"/></g>
<text class="eq" x="288.4" y="123.4" font-size="5.6" textLength="48.2" lengthAdjust="spacingAndGlyphs">y = 1.053 x + 1.464</text>
<text class="eq" x="289.1" y="131.4" font-size="5.6" textLength="46.3" lengthAdjust="spacingAndGlyphs">R = 0.893, N = 441</text>
<text x="208.9" y="11.4" font-size="7.6" font-weight="bold">b</text>
</g>
<g id="panel-c">
<path d="M37.35 168H179.95V306.3" fill="none" stroke="#6a6a6a" stroke-width="1.3"/>
<path d="M37.35 167.4V306.3H180.55" fill="none" stroke="#2b2b2b" stroke-width="0.85"/>
<path d="M37.35 306.3v2.4M47.54 306.3v2.4M57.72 306.3v2.4M67.91 306.3v2.4M78.09 306.3v2.4M88.28 306.3v2.4M98.46 306.3v2.4M108.65 306.3v2.4M118.84 306.3v2.4M129.02 306.3v2.4M139.21 306.3v2.4M149.39 306.3v2.4M159.58 306.3v2.4M169.76 306.3v2.4M179.95 306.3v2.4M37.35 306.3h-2.4M37.35 294.78h-2.4M37.35 283.25h-2.4M37.35 271.73h-2.4M37.35 260.2h-2.4M37.35 248.68h-2.4M37.35 237.15h-2.4M37.35 225.62h-2.4M37.35 214.1h-2.4M37.35 202.57h-2.4M37.35 191.05h-2.4M37.35 179.53h-2.4M37.35 168h-2.4" stroke="#2b2b2b" stroke-width="0.75" fill="none"/>
<text x="37.45" y="318" text-anchor="middle" font-size="6.4" font-weight="bold">0</text>
<text x="57.82" y="318" text-anchor="middle" font-size="6.4" font-weight="bold">0.2</text>
<text x="78.19" y="318" text-anchor="middle" font-size="6.4" font-weight="bold">0.4</text>
<text x="98.56" y="318" text-anchor="middle" font-size="6.4" font-weight="bold">0.6</text>
<text x="118.94" y="318" text-anchor="middle" font-size="6.4" font-weight="bold">0.8</text>
<text x="139.31" y="318" text-anchor="middle" font-size="6.4" font-weight="bold">1</text>
<text x="159.68" y="318" text-anchor="middle" font-size="6.4" font-weight="bold">1.2</text>
<text x="180.05" y="318" text-anchor="middle" font-size="6.4" font-weight="bold">1.4</text>
<text x="30.45" y="308.6" text-anchor="end" font-size="6.4" font-weight="bold">0</text>
<text x="30.45" y="285.55" text-anchor="end" font-size="6.4" font-weight="bold">0.5</text>
<text x="30.45" y="262.5" text-anchor="end" font-size="6.4" font-weight="bold">1</text>
<text x="30.45" y="239.45" text-anchor="end" font-size="6.4" font-weight="bold">1.5</text>
<text x="30.45" y="216.4" text-anchor="end" font-size="6.4" font-weight="bold">2</text>
<text x="30.45" y="193.35" text-anchor="end" font-size="6.4" font-weight="bold">2.5</text>
<text x="30.45" y="170.3" text-anchor="end" font-size="6.4" font-weight="bold">3</text>
<line x1="51.1" y1="292.03" x2="166.71" y2="222.44" stroke="#1a1a1a" stroke-width="0.8"/>
<g fill="#000" fill-opacity="0.36" stroke="#151515" stroke-width="0.74"><circle cx="82.37" cy="286.25" r="1.12"/><circle cx="69.98" cy="286.37" r="1.12"/><circle cx="83.79" cy="277.12" r="1.12"/><circle cx="87.5" cy="284.54" r="1.12"/><circle cx="81.71" cy="280.19" r="1.12"/><circle cx="65.55" cy="284.36" r="1.12"/><circle cx="83.83" cy="279.66" r="1.12"/><circle cx="94.84" cy="269.86" r="1.12"/><circle cx="91.38" cy="277.15" r="1.12"/><circle cx="83.99" cy="268.78" r="1.12"/><circle cx="89.1" cy="273.96" r="1.12"/><circle cx="70.08" cy="282.49" r="1.12"/><circle cx="82.48" cy="272.49" r="1.12"/><circle cx="83.97" cy="268.2" r="1.12"/><circle cx="81.11" cy="278.1" r="1.12"/><circle cx="88.79" cy="285.36" r="1.12"/><circle cx="77.36" cy="286.82" r="1.12"/><circle cx="88.63" cy="269.72" r="1.12"/><circle cx="91.98" cy="277.17" r="1.12"/><circle cx="89.34" cy="287.04" r="1.12"/><circle cx="76.97" cy="270.86" r="1.12"/><circle cx="96.96" cy="282.42" r="1.12"/><circle cx="67.4" cy="288.62" r="1.12"/><circle cx="89.45" cy="273.46" r="1.12"/><circle cx="84.9" cy="286.79" r="1.12"/><circle cx="87.93" cy="265.55" r="1.12"/><circle cx="73.54" cy="277.49" r="1.12"/><circle cx="63.12" cy="291.64" r="1.12"/><circle cx="71.06" cy="287.22" r="1.12"/><circle cx="79.04" cy="281.06" r="1.12"/><circle cx="97.71" cy="266.09" r="1.12"/><circle cx="95.92" cy="272.35" r="1.12"/><circle cx="76.53" cy="279.22" r="1.12"/><circle cx="83.37" cy="289.99" r="1.12"/><circle cx="86.62" cy="281.8" r="1.12"/><circle cx="71.19" cy="290.73" r="1.12"/><circle cx="80.03" cy="269.08" r="1.12"/><circle cx="82.76" cy="279.23" r="1.12"/><circle cx="94.92" cy="281.58" r="1.12"/><circle cx="86.35" cy="287.19" r="1.12"/><circle cx="71.21" cy="289.57" r="1.12"/><circle cx="75.2" cy="286.14" r="1.12"/><circle cx="69.34" cy="287.36" r="1.12"/><circle cx="75.53" cy="276.66" r="1.12"/><circle cx="67.14" cy="291.45" r="1.12"/><circle cx="72.65" cy="291.68" r="1.12"/><circle cx="89.26" cy="273.89" r="1.12"/><circle cx="87.92" cy="264.9" r="1.12"/><circle cx="93.95" cy="284.88" r="1.12"/><circle cx="87.4" cy="292.41" r="1.12"/><circle cx="80.97" cy="262.35" r="1.12"/><circle cx="79.59" cy="284.28" r="1.12"/><circle cx="83.48" cy="278.37" r="1.12"/><circle cx="81.94" cy="286.44" r="1.12"/><circle cx="93.23" cy="264.47" r="1.12"/><circle cx="79.39" cy="278.09" r="1.12"/><circle cx="88.7" cy="265.87" r="1.12"/><circle cx="85.86" cy="270.69" r="1.12"/><circle cx="78.84" cy="291.18" r="1.12"/><circle cx="76.36" cy="273.42" r="1.12"/><circle cx="92.11" cy="271.99" r="1.12"/><circle cx="75.59" cy="280.44" r="1.12"/><circle cx="74.35" cy="284.43" r="1.12"/><circle cx="83.67" cy="278.19" r="1.12"/><circle cx="91.98" cy="261.73" r="1.12"/><circle cx="90.59" cy="262.09" r="1.12"/><circle cx="85.47" cy="287.95" r="1.12"/><circle cx="84.25" cy="264.92" r="1.12"/><circle cx="70.6" cy="278.88" r="1.12"/><circle cx="75.12" cy="271.83" r="1.12"/><circle cx="90.06" cy="271.77" r="1.12"/><circle cx="74.32" cy="266.94" r="1.12"/><circle cx="72.28" cy="265" r="1.12"/><circle cx="81.23" cy="289.45" r="1.12"/><circle cx="81.64" cy="278.44" r="1.12"/><circle cx="83.81" cy="280.1" r="1.12"/><circle cx="75.73" cy="285.62" r="1.12"/><circle cx="78.02" cy="292.36" r="1.12"/><circle cx="74.55" cy="278" r="1.12"/><circle cx="86.05" cy="263.71" r="1.12"/><circle cx="75.25" cy="281.01" r="1.12"/><circle cx="94.21" cy="263.75" r="1.12"/><circle cx="78.06" cy="271.39" r="1.12"/><circle cx="71.78" cy="268.95" r="1.12"/><circle cx="77.1" cy="223.3" r="1.12"/><circle cx="77.4" cy="226.8" r="1.12"/><circle cx="83.4" cy="224.4" r="1.12"/><circle cx="84.7" cy="220.3" r="1.12"/><circle cx="88.5" cy="228.3" r="1.12"/><circle cx="103.1" cy="219" r="1.12"/><circle cx="104.2" cy="236.2" r="1.12"/><circle cx="140.9" cy="182.1" r="1.12"/><circle cx="166.3" cy="196.5" r="1.12"/><circle cx="145.9" cy="212.6" r="1.12"/><circle cx="166.3" cy="221.4" r="1.12"/><circle cx="138.6" cy="221.2" r="1.12"/><circle cx="130.4" cy="223.5" r="1.12"/><circle cx="119.5" cy="225.5" r="1.12"/><circle cx="124.6" cy="231.5" r="1.12"/><circle cx="115.2" cy="233.2" r="1.12"/><circle cx="153.2" cy="235.8" r="1.12"/><circle cx="60.6" cy="255.5" r="1.12"/><circle cx="75.6" cy="247.1" r="1.12"/><circle cx="80.4" cy="247.1" r="1.12"/><circle cx="82.2" cy="252.6" r="1.12"/><circle cx="78.9" cy="256.4" r="1.12"/><circle cx="70.7" cy="256.4" r="1.12"/><circle cx="71.2" cy="260.4" r="1.12"/><circle cx="104.3" cy="239.4" r="1.12"/><circle cx="101.4" cy="243.8" r="1.12"/><circle cx="102" cy="248.2" r="1.12"/><circle cx="99.4" cy="250.4" r="1.12"/><circle cx="97.7" cy="255.3" r="1.12"/><circle cx="102" cy="256.4" r="1.12"/><circle cx="102" cy="258.6" r="1.12"/><circle cx="96.5" cy="259.7" r="1.12"/><circle cx="108" cy="260.4" r="1.12"/><circle cx="106.5" cy="263.7" r="1.12"/><circle cx="101" cy="263.7" r="1.12"/><circle cx="104.3" cy="287.9" r="1.12"/><circle cx="99.9" cy="284.6" r="1.12"/><circle cx="102" cy="279.1" r="1.12"/><circle cx="94.8" cy="280.2" r="1.12"/><circle cx="97" cy="281.8" r="1.12"/><circle cx="84.4" cy="291.2" r="1.12"/><circle cx="67.9" cy="291.2" r="1.12"/><circle cx="60.6" cy="290.1" r="1.12"/><circle cx="59.1" cy="284.6" r="1.12"/><circle cx="60.2" cy="287.9" r="1.12"/><circle cx="64.6" cy="281.3" r="1.12"/><circle cx="66.8" cy="275.8" r="1.12"/><circle cx="67.9" cy="272.5" r="1.12"/><circle cx="121.8" cy="239" r="1.12"/><circle cx="128.4" cy="242.1" r="1.12"/><circle cx="114.7" cy="241" r="1.12"/><circle cx="108.1" cy="240.5" r="1.12"/><circle cx="140.7" cy="249.3" r="1.12"/><circle cx="138.5" cy="251.5" r="1.12"/><circle cx="140.7" cy="253.3" r="1.12"/><circle cx="140.7" cy="257.1" r="1.12"/><circle cx="113.6" cy="250" r="1.12"/><circle cx="119.1" cy="254.4" r="1.12"/><circle cx="122.9" cy="256.4" r="1.12"/><circle cx="119.1" cy="257.7" r="1.12"/><circle cx="111.9" cy="255.3" r="1.12"/><circle cx="111.9" cy="259.3" r="1.12"/><circle cx="118" cy="262.6" r="1.12"/><circle cx="111.4" cy="263.7" r="1.12"/><circle cx="108.1" cy="264.8" r="1.12"/><circle cx="117.8" cy="269.3" r="1.12"/><circle cx="122.4" cy="267" r="1.12"/><circle cx="110.3" cy="272" r="1.12"/><circle cx="109.2" cy="272.9" r="1.12"/></g>
<g fill="#111" stroke="#111" stroke-width="0.5"><circle cx="51.3" cy="295.7" r="1.15"/><circle cx="145.2" cy="235.1" r="1.15"/><circle cx="111.9" cy="242.1" r="1.15"/><circle cx="132.4" cy="252.2" r="1.15"/><circle cx="116.3" cy="252.6" r="1.15"/><circle cx="114.5" cy="266" r="1.15"/></g>
<text class="eq" x="124.4" y="291.7" font-size="5.6" textLength="48.4" lengthAdjust="spacingAndGlyphs">y = 1.330 x + 0.130</text>
<text class="eq" x="125.1" y="300" font-size="5.6" textLength="46.5" lengthAdjust="spacingAndGlyphs">R = 0.649, N = 181</text>
<text x="43.9" y="181" font-size="7.6" font-weight="bold">c</text>
</g>
<g id="panel-d">
<path d="M201.45 168H344.3V306.3" fill="none" stroke="#6a6a6a" stroke-width="1.3"/>
<path d="M201.45 167.4V306.3H344.9" fill="none" stroke="#2b2b2b" stroke-width="0.85"/>
<path d="M201.45 306.3v2.4M211.65 306.3v2.4M221.86 306.3v2.4M232.06 306.3v2.4M242.26 306.3v2.4M252.47 306.3v2.4M262.67 306.3v2.4M272.88 306.3v2.4M283.08 306.3v2.4M293.28 306.3v2.4M303.49 306.3v2.4M313.69 306.3v2.4M323.89 306.3v2.4M334.1 306.3v2.4M344.3 306.3v2.4M201.45 306.3h-2.4M201.45 294.78h-2.4M201.45 283.25h-2.4M201.45 271.73h-2.4M201.45 260.2h-2.4M201.45 248.68h-2.4M201.45 237.15h-2.4M201.45 225.62h-2.4M201.45 214.1h-2.4M201.45 202.57h-2.4M201.45 191.05h-2.4M201.45 179.53h-2.4M201.45 168h-2.4" stroke="#2b2b2b" stroke-width="0.75" fill="none"/>
<text x="201.95" y="318" text-anchor="middle" font-size="6.4" font-weight="bold">-1</text>
<text x="222.36" y="318" text-anchor="middle" font-size="6.4" font-weight="bold">-0.8</text>
<text x="242.76" y="318" text-anchor="middle" font-size="6.4" font-weight="bold">-0.6</text>
<text x="263.17" y="318" text-anchor="middle" font-size="6.4" font-weight="bold">-0.4</text>
<text x="283.58" y="318" text-anchor="middle" font-size="6.4" font-weight="bold">-0.2</text>
<text x="303.59" y="318" text-anchor="middle" font-size="6.4" font-weight="bold">0</text>
<text x="323.99" y="318" text-anchor="middle" font-size="6.4" font-weight="bold">0.2</text>
<text x="344.4" y="318" text-anchor="middle" font-size="6.4" font-weight="bold">0.4</text>
<text x="195" y="308.6" text-anchor="end" font-size="6.4" font-weight="bold">0</text>
<text x="195" y="285.55" text-anchor="end" font-size="6.4" font-weight="bold">0.5</text>
<text x="195" y="262.5" text-anchor="end" font-size="6.4" font-weight="bold">1</text>
<text x="195" y="239.45" text-anchor="end" font-size="6.4" font-weight="bold">1.5</text>
<text x="195" y="216.4" text-anchor="end" font-size="6.4" font-weight="bold">2</text>
<text x="195" y="193.35" text-anchor="end" font-size="6.4" font-weight="bold">2.5</text>
<text x="195" y="170.3" text-anchor="end" font-size="6.4" font-weight="bold">3</text>
<line x1="201.45" y1="289.06" x2="333.08" y2="213.06" stroke="#1a1a1a" stroke-width="0.8"/>
<g fill="#000" fill-opacity="0.36" stroke="#151515" stroke-width="0.74"><circle cx="212.09" cy="270.91" r="1.12"/><circle cx="207.95" cy="282.41" r="1.12"/><circle cx="225.55" cy="277.25" r="1.12"/><circle cx="211.16" cy="278.65" r="1.12"/><circle cx="208.1" cy="283.26" r="1.12"/><circle cx="217.02" cy="271.37" r="1.12"/><circle cx="216.2" cy="274.2" r="1.12"/><circle cx="207.14" cy="278.34" r="1.12"/><circle cx="216.15" cy="279.91" r="1.12"/><circle cx="219.82" cy="259.21" r="1.12"/><circle cx="209.75" cy="277.89" r="1.12"/><circle cx="211.2" cy="283.37" r="1.12"/><circle cx="222.79" cy="263.63" r="1.12"/><circle cx="215.58" cy="278.29" r="1.12"/><circle cx="209.54" cy="277.71" r="1.12"/><circle cx="228.8" cy="258.83" r="1.12"/><circle cx="241.63" cy="261.02" r="1.12"/><circle cx="220.89" cy="265.27" r="1.12"/><circle cx="207.46" cy="291.48" r="1.12"/><circle cx="211.91" cy="279.98" r="1.12"/><circle cx="204.41" cy="288.99" r="1.12"/><circle cx="216.14" cy="263.69" r="1.12"/><circle cx="216.69" cy="284.76" r="1.12"/><circle cx="233.16" cy="261.43" r="1.12"/><circle cx="212.22" cy="271.72" r="1.12"/><circle cx="218.17" cy="277.71" r="1.12"/><circle cx="208.29" cy="287.39" r="1.12"/><circle cx="208.66" cy="289.94" r="1.12"/><circle cx="220.06" cy="258.23" r="1.12"/><circle cx="216.41" cy="272.94" r="1.12"/><circle cx="210.76" cy="287.42" r="1.12"/><circle cx="218.03" cy="279.75" r="1.12"/><circle cx="219.02" cy="277.39" r="1.12"/><circle cx="209.15" cy="286.76" r="1.12"/><circle cx="217.97" cy="270.35" r="1.12"/><circle cx="229.63" cy="272.91" r="1.12"/><circle cx="212.06" cy="274.8" r="1.12"/><circle cx="218.17" cy="273.7" r="1.12"/><circle cx="224.16" cy="281.7" r="1.12"/><circle cx="215.78" cy="254.06" r="1.12"/><circle cx="228.99" cy="265.13" r="1.12"/><circle cx="231.58" cy="255.53" r="1.12"/><circle cx="203.89" cy="285.84" r="1.12"/><circle cx="212.01" cy="285.88" r="1.12"/><circle cx="221.57" cy="283.82" r="1.12"/><circle cx="234.8" cy="262.38" r="1.12"/><circle cx="215.95" cy="277.78" r="1.12"/><circle cx="213.79" cy="268.83" r="1.12"/><circle cx="238.7" cy="275.42" r="1.12"/><circle cx="215.73" cy="283.96" r="1.12"/><circle cx="207.35" cy="286.64" r="1.12"/><circle cx="213.26" cy="265.29" r="1.12"/><circle cx="213.35" cy="266.19" r="1.12"/><circle cx="236.85" cy="268.23" r="1.12"/><circle cx="217.14" cy="254.09" r="1.12"/><circle cx="231.84" cy="261.54" r="1.12"/><circle cx="239.78" cy="274.58" r="1.12"/><circle cx="234.57" cy="275.43" r="1.12"/><circle cx="234.52" cy="257.44" r="1.12"/><circle cx="209.59" cy="284.61" r="1.12"/><circle cx="218.69" cy="274.7" r="1.12"/><circle cx="208.21" cy="282.4" r="1.12"/><circle cx="214.57" cy="284.28" r="1.12"/><circle cx="226.13" cy="259.62" r="1.12"/><circle cx="230.24" cy="280.49" r="1.12"/><circle cx="214.56" cy="279.62" r="1.12"/><circle cx="220.59" cy="264.09" r="1.12"/><circle cx="230.02" cy="262.74" r="1.12"/><circle cx="216.49" cy="266.89" r="1.12"/><circle cx="211.98" cy="273.85" r="1.12"/><circle cx="208.74" cy="279" r="1.12"/><circle cx="221.89" cy="264.32" r="1.12"/><circle cx="214.76" cy="284.45" r="1.12"/><circle cx="231.02" cy="285.17" r="1.12"/><circle cx="209.47" cy="288.35" r="1.12"/><circle cx="217.03" cy="271.99" r="1.12"/><circle cx="224.25" cy="271.16" r="1.12"/><circle cx="228.21" cy="275.01" r="1.12"/><circle cx="241.7" cy="262.05" r="1.12"/><circle cx="214.27" cy="279.69" r="1.12"/><circle cx="240.84" cy="262.39" r="1.12"/><circle cx="211.84" cy="278.15" r="1.12"/><circle cx="225.82" cy="283.61" r="1.12"/><circle cx="216.63" cy="287.03" r="1.12"/><circle cx="215.31" cy="258.49" r="1.12"/><circle cx="224.6" cy="269.23" r="1.12"/><circle cx="210.95" cy="283.7" r="1.12"/><circle cx="209.31" cy="290.14" r="1.12"/><circle cx="223.71" cy="262.79" r="1.12"/><circle cx="219.13" cy="270.27" r="1.12"/><circle cx="215.29" cy="265.43" r="1.12"/><circle cx="237.26" cy="266.65" r="1.12"/><circle cx="209.71" cy="284.61" r="1.12"/><circle cx="205.76" cy="289.37" r="1.12"/><circle cx="222.1" cy="262.86" r="1.12"/><circle cx="225.8" cy="264.37" r="1.12"/><circle cx="223" cy="282.88" r="1.12"/><circle cx="224.95" cy="272.26" r="1.12"/><circle cx="222.77" cy="275.5" r="1.12"/><circle cx="215.71" cy="282.77" r="1.12"/><circle cx="216.33" cy="270.01" r="1.12"/><circle cx="229.24" cy="256.56" r="1.12"/><circle cx="208.07" cy="280.88" r="1.12"/><circle cx="232.74" cy="270.39" r="1.12"/><circle cx="229.83" cy="271.43" r="1.12"/><circle cx="214.42" cy="276.21" r="1.12"/><circle cx="222.67" cy="283.24" r="1.12"/><circle cx="204.34" cy="290.93" r="1.12"/><circle cx="217.22" cy="256.99" r="1.12"/><circle cx="202.72" cy="287.44" r="1.12"/><circle cx="219.29" cy="264.99" r="1.12"/><circle cx="229.72" cy="258.74" r="1.12"/><circle cx="209.91" cy="286.33" r="1.12"/><circle cx="229.25" cy="270.58" r="1.12"/><circle cx="223.54" cy="275.42" r="1.12"/><circle cx="212.79" cy="277.17" r="1.12"/><circle cx="207.18" cy="286.39" r="1.12"/><circle cx="228.44" cy="277.35" r="1.12"/><circle cx="213.06" cy="269.66" r="1.12"/><circle cx="223.78" cy="264.85" r="1.12"/><circle cx="247.7" cy="220.3" r="1.12"/><circle cx="242.5" cy="223.3" r="1.12"/><circle cx="246.4" cy="224.4" r="1.12"/><circle cx="239.1" cy="226.8" r="1.12"/><circle cx="246.8" cy="228.3" r="1.12"/><circle cx="251.1" cy="231" r="1.12"/><circle cx="262.3" cy="219" r="1.12"/><circle cx="271.5" cy="233" r="1.12"/><circle cx="245.5" cy="236.2" r="1.12"/><circle cx="305.3" cy="182.1" r="1.12"/><circle cx="331.8" cy="196.5" r="1.12"/><circle cx="308.6" cy="212.6" r="1.12"/><circle cx="332.6" cy="221.4" r="1.12"/><circle cx="302.8" cy="221.2" r="1.12"/><circle cx="291.8" cy="223.5" r="1.12"/><circle cx="290.3" cy="225.5" r="1.12"/><circle cx="290.8" cy="231.5" r="1.12"/><circle cx="310.1" cy="235.1" r="1.12"/><circle cx="319.7" cy="235.8" r="1.12"/><circle cx="265.5" cy="241.2" r="1.12"/><circle cx="271" cy="241.6" r="1.12"/><circle cx="255.1" cy="243.4" r="1.12"/><circle cx="228.7" cy="247.1" r="1.12"/><circle cx="233.5" cy="247.1" r="1.12"/><circle cx="226.9" cy="251.5" r="1.12"/><circle cx="230.9" cy="252.2" r="1.12"/><circle cx="247.4" cy="249.3" r="1.12"/><circle cx="249.6" cy="248.7" r="1.12"/><circle cx="245.7" cy="251.5" r="1.12"/><circle cx="251.8" cy="253.1" r="1.12"/><circle cx="246.3" cy="256" r="1.12"/><circle cx="250.7" cy="256" r="1.12"/><circle cx="234.6" cy="257.1" r="1.12"/><circle cx="260" cy="256.4" r="1.12"/><circle cx="265.5" cy="254.9" r="1.12"/><circle cx="264" cy="259.3" r="1.12"/><circle cx="272.8" cy="256.4" r="1.12"/><circle cx="272.1" cy="263.7" r="1.12"/><circle cx="256.2" cy="263.7" r="1.12"/><circle cx="261.8" cy="265.2" r="1.12"/><circle cx="256.2" cy="267" r="1.12"/><circle cx="257.8" cy="269.2" r="1.12"/><circle cx="247.4" cy="272.9" r="1.12"/><circle cx="241.2" cy="273.6" r="1.12"/><circle cx="249.6" cy="276.9" r="1.12"/><circle cx="252.9" cy="278" r="1.12"/><circle cx="235.3" cy="284.6" r="1.12"/><circle cx="235.7" cy="286.8" r="1.12"/><circle cx="233.1" cy="288.4" r="1.12"/><circle cx="227.6" cy="291.2" r="1.12"/><circle cx="212.8" cy="296.1" r="1.12"/><circle cx="202.6" cy="295" r="1.12"/><circle cx="218.7" cy="255.3" r="1.12"/><circle cx="214.3" cy="259.3" r="1.12"/><circle cx="213.2" cy="263.7" r="1.12"/><circle cx="209.9" cy="271.4" r="1.12"/><circle cx="278.7" cy="239.4" r="1.12"/><circle cx="279.2" cy="241.6" r="1.12"/><circle cx="274.3" cy="243.2" r="1.12"/><circle cx="307.8" cy="249.3" r="1.12"/><circle cx="301.9" cy="252.2" r="1.12"/><circle cx="305.2" cy="253.3" r="1.12"/><circle cx="292.4" cy="252.2" r="1.12"/><circle cx="289.3" cy="253.1" r="1.12"/><circle cx="307.4" cy="257.1" r="1.12"/><circle cx="280.5" cy="255.3" r="1.12"/><circle cx="274.3" cy="256.6" r="1.12"/></g>
<g fill="#111" stroke="#111" stroke-width="0.5"><circle cx="258.4" cy="239.4" r="1.15"/><circle cx="239.7" cy="281.3" r="1.15"/></g>
<text class="eq" x="288.4" y="291.6" font-size="5.6" textLength="48.4" lengthAdjust="spacingAndGlyphs">y = 1.278 x + 1.652</text>
<text class="eq" x="289.1" y="299.9" font-size="5.6" textLength="46.5" lengthAdjust="spacingAndGlyphs">R = 0.650, N = 189</text>
<text x="209.2" y="181" font-size="7.6" font-weight="bold">d</text>
</g>
<text x="58.4" y="159.85" font-size="7.0" font-weight="bold" textLength="103.1" lengthAdjust="spacingAndGlyphs">The K between annual T<tspan font-size="4.7" dy="2.3">S</tspan><tspan dy="-2.3" font-size="7.0">&#8203;</tspan> and T<tspan font-size="4.7" dy="2.3">A</tspan><tspan dy="-2.3" font-size="7.0">&#8203;</tspan></text>
<text x="220.4" y="159.3" font-size="7.0" font-weight="bold" textLength="110.1" lengthAdjust="spacingAndGlyphs">The R between annual dT<tspan font-size="4.7" dy="2.3">SA</tspan><tspan dy="-2.3" font-size="7.0">&#8203;</tspan> and T<tspan font-size="4.7" dy="2.3">A</tspan><tspan dy="-2.3" font-size="7.0">&#8203;</tspan></text>
<text x="61.6" y="329.25" font-size="7.0" font-weight="bold" textLength="102.3" lengthAdjust="spacingAndGlyphs">The K between annual T<tspan font-size="4.7" dy="2.3">S</tspan><tspan dy="-2.3" font-size="7.0">&#8203;</tspan> and T<tspan font-size="4.7" dy="2.3">A</tspan><tspan dy="-2.3" font-size="7.0">&#8203;</tspan></text>
<text x="219.3" y="328.9" font-size="7.0" font-weight="bold" textLength="109.8" lengthAdjust="spacingAndGlyphs">The R between annual dT<tspan font-size="4.7" dy="2.3">SA</tspan><tspan dy="-2.3" font-size="7.0">&#8203;</tspan> and T<tspan font-size="4.7" dy="2.3">A</tspan><tspan dy="-2.3" font-size="7.0">&#8203;</tspan></text>
<text transform="translate(5.2 129.5) rotate(-90)" font-size="7.0" font-weight="bold" textLength="117.4" lengthAdjust="spacingAndGlyphs">The ratio between MAD of annual T<tspan font-size="4.7" dy="2.3">S</tspan><tspan dy="-2.3" font-size="7.0">&#8203;</tspan></text>
<text transform="translate(15.1 107) rotate(-90)" font-size="7.0" font-weight="bold" textLength="71.5" lengthAdjust="spacingAndGlyphs">and MAD of annual T<tspan font-size="4.7" dy="2.3">A</tspan><tspan dy="-2.3" font-size="7.0">&#8203;</tspan></text>
<text transform="translate(5.65 304.6) rotate(-90)" font-size="7.0" font-weight="bold" textLength="133.5" lengthAdjust="spacingAndGlyphs">The ratio between the trend of annual T<tspan font-size="4.7" dy="2.3">S</tspan><tspan dy="-2.3" font-size="7.0">&#8203;</tspan></text>
<text transform="translate(15.1 281.9) rotate(-90)" font-size="7.0" font-weight="bold" textLength="86.5" lengthAdjust="spacingAndGlyphs">and the trend of annual T<tspan font-size="4.7" dy="2.3">A</tspan><tspan dy="-2.3" font-size="7.0">&#8203;</tspan></text>
</svg>
</body>
</html>
